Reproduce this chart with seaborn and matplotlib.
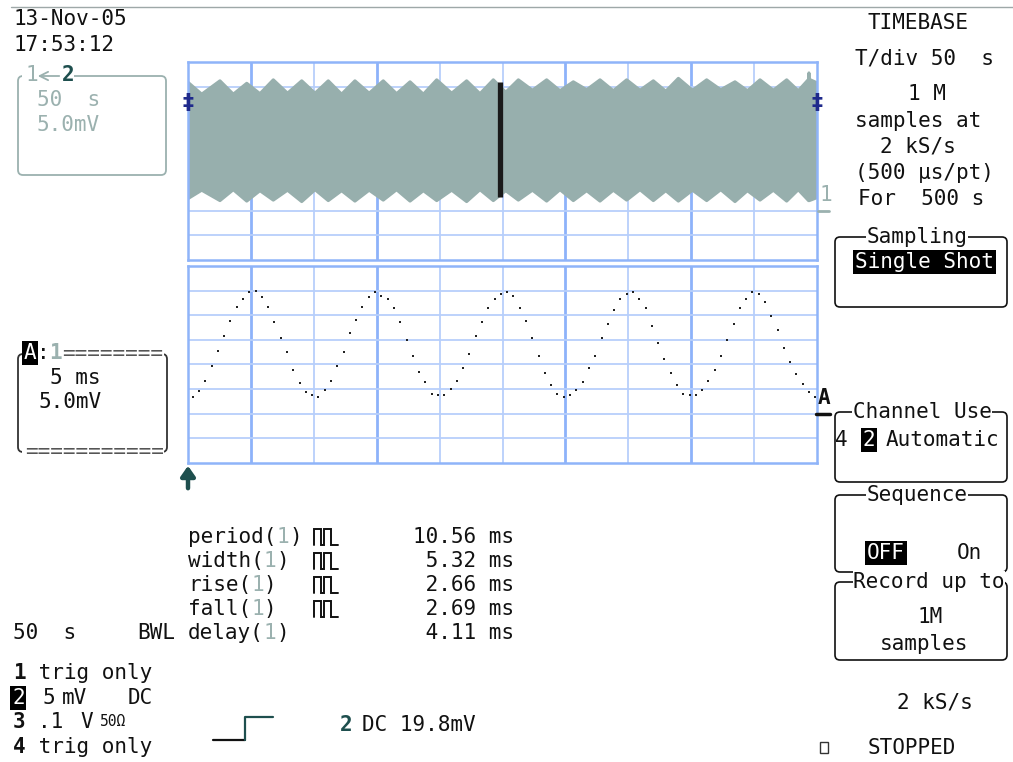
import numpy as np
import pandas as pd
import matplotlib
matplotlib.use("Agg")
import matplotlib.pyplot as plt
from matplotlib.patches import FancyBboxPatch, Rectangle
import seaborn as sns

# ---------------- acquisition data ----------------
# Trace 2 (50 s/div): envelope of the 1 M-sample record, mV
env_t = [0.0, 10.9, 25.4, 36.0, 46.7, 57.2, 67.8, 79.1, 90.4, 101.0,
         111.5, 122.1, 132.7, 144.0, 155.2, 165.8, 176.5, 187.1, 197.7, 209.6,
         221.5, 232.1, 242.7, 252.6, 262.6, 273.8, 285.1, 295.7, 306.3, 316.9,
         327.5, 338.1, 348.7, 359.3, 369.9, 379.8, 389.8, 401.0, 412.3, 423.5,
         434.8, 444.7, 454.7, 465.3, 475.9, 485.1, 493.3, 493.6, 493.9, 500.0]
env_hi = [15.9, 13.5, 16.2, 13.5, 15.7, 13.6, 16.4, 13.7, 16.2, 13.7,
          16.2, 13.5, 16.2, 13.7, 16.2, 13.6, 16.0, 13.5, 16.4, 13.7,
          16.2, 13.6, 16.4, 13.9, 16.4, 14.3, 16.4, 14.2, 16.0, 14.4,
          16.4, 14.2, 16.4, 14.3, 16.2, 14.1, 16.7, 14.3, 16.4, 14.4,
          16.0, 14.2, 16.4, 14.3, 16.4, 14.2, 16.5, 17.8, 16.5, 15.8]
env_lo = [-7.6, -5.9, -8.0, -5.8, -8.1, -6.0, -7.9, -5.9, -8.2, -5.8,
          -8.0, -6.0, -8.1, -5.9, -7.9, -5.8, -8.1, -6.0, -8.0, -5.9,
          -8.2, -5.8, -8.0, -6.0, -7.9, -5.9, -8.1, -5.8, -8.0, -6.0,
          -8.1, -5.9, -7.9, -5.8, -8.0, -6.0, -8.1, -5.9, -8.0, -5.8,
          -8.2, -6.0, -7.9, -5.9, -8.1, -5.8, -8.0, -8.0, -8.0, -7.4]
zoom_pos_s = 248.0          # position of the zoomed window in the record
zoom_bar_mv = [-7.3, 16.0]
trig_level_mv = 11.7

# Trace A (zoom of 2, 5 ms/div): individual samples, mV
zoom_first_ms = 0.37
sample_interval_ms = 0.5    # 500 us/pt
zoom_mv = [-6.5, -5.3, -3.3, -0.4, 2.8, 5.7, 8.9, 11.7, 13.3, 14.7,
           14.9, 13.7, 11.7, 8.6, 5.3, 2.5, -1.1, -3.7, -5.6, -6.2,
           -6.5, -5.2, -3.3, -0.4, 2.5, 6.3, 9.1, 11.7, 13.7, 14.7,
           14.0, 13.3, 11.4, 8.6, 5.0, 1.7, -1.5, -3.6, -5.9, -6.2,
           -6.2, -5.0, -3.3, -0.7, 2.1, 5.7, 8.6, 11.4, 13.3, 14.3,
           14.7, 14.0, 11.4, 8.8, 5.3, 1.7, -1.8, -4.2, -5.9, -6.5,
           -6.2, -5.2, -3.6, -0.8, 1.7, 5.3, 8.2, 11.1, 13.3, 14.3,
           14.7, 13.3, 11.4, 7.9, 4.3, 1.2, -1.7, -4.2, -5.9, -6.2,
           -6.2, -5.2, -3.3, -1.1, 1.7, 5.0, 8.2, 11.4, 13.3, 14.7,
           14.3, 12.7, 9.8, 7.0, 3.4, 0.5, -2.0, -4.0, -5.6, -6.5]

# Parameter measurements on channel 1
meas_names = ["period", "width", "rise", "fall", "delay"]
meas_values = ["10.56", "5.32", "2.66", "2.69", "4.11"]
meas_pulse = [True, True, True, True, False]

assert len(env_t) == len(env_hi) == len(env_lo)

# ---------------- style ----------------
sns.set_theme(style="white")
plt.rcParams["font.family"] = ["DejaVu Sans Mono", "DejaVu Sans"]

K = "#111111"
TEAL_L = "#9bb1af"
TRACE = "#97afad"
DARK_TEAL = "#1e4f4e"
NAVY = "#1f2a8c"
GRID_THIN = "#b7cffb"
GRID_THICK = "#8db2fa"
BORDER = "#8fb4f9"

W, H = 1013, 762
fig = plt.figure(figsize=(W / 100, H / 100), dpi=100)
fig.patch.set_facecolor("white")


def px_rect(x0, y0, x1, y1):
    return [x0 / W, 1 - y1 / H, (x1 - x0) / W, (y1 - y0) / H]


ax_up = fig.add_axes(px_rect(188, 62, 817, 260))
ax_lo = fig.add_axes(px_rect(188, 266, 817, 463))


def scope_grid(ax, xmax, thick_cols):
    ax.set_xlim(0, xmax)
    ax.set_ylim(-20, 20)
    ax.set_xticks([])
    ax.set_yticks([])
    ax.set_facecolor("white")
    for i in range(1, 10):
        thick = i in thick_cols
        ax.axvline(xmax * i / 10, color=GRID_THICK if thick else GRID_THIN,
                   lw=2.0 if thick else 1.3, zorder=0)
    for j in range(1, 8):
        ax.axhline(-20 + 5 * j, color=GRID_THIN, lw=1.3, zorder=0)
    for sp in ax.spines.values():
        sp.set_color(BORDER)
        sp.set_linewidth(1.8)
        sp.set_visible(True)


scope_grid(ax_up, 500, {1, 3, 6, 8})
scope_grid(ax_lo, 50, {1, 3, 6, 8})

# upper trace: filled envelope, edges stroked with round joins
ax_up.fill_between(env_t, env_lo, env_hi, color=TRACE, lw=0, zorder=2)
for edge in (env_hi, env_lo):
    sns.lineplot(x=env_t, y=edge, ax=ax_up, color=TRACE, lw=2.2, sort=False,
                 zorder=2, solid_joinstyle="round", solid_capstyle="butt")
ax_up.vlines(zoom_pos_s, zoom_bar_mv[0], zoom_bar_mv[1], color="#1a1a1a",
             lw=3.8, zorder=4)
ax_up.set_xlabel("")
ax_up.set_ylabel("")

# lower trace: sampled points
df_zoom = pd.DataFrame({
    "t": zoom_first_ms + sample_interval_ms * np.arange(len(zoom_mv)),
    "mv": zoom_mv,
})
sns.scatterplot(data=df_zoom, x="t", y="mv", ax=ax_lo, s=2.6, marker="s",
                color="#222222", linewidth=0, zorder=3)
ax_lo.set_xlabel("")
ax_lo.set_ylabel("")

# ---------------- annotation layer ----------------
ax = fig.add_axes([0, 0, 1, 1])
ax.set_xlim(0, W)
ax.set_ylim(H, 0)
ax.axis("off")
ax.patch.set_alpha(0)

FS = 15.1
CW = 0.6021 * FS * 100 / 72


def mono(x, y, parts, size=FS, **kw):
    col = 0
    for part in parts:
        txt, color = part[0], part[1]
        weight = part[2] if len(part) > 2 else "normal"
        ax.text(x + col * CW * size / FS, y, txt, color=color, fontsize=size,
                fontweight=weight, ha="left", va="center", **kw)
        col += len(txt)


def inverse(x, y, txt, size=FS):
    ax.text(x, y, txt, color="white", fontsize=size, ha="left", va="center",
            bbox=dict(facecolor="black", edgecolor="none", pad=1.2))


def rbox(x0, y0, x1, y1, color=K, lw=1.2):
    ax.add_patch(FancyBboxPatch((x0, y0), x1 - x0, y1 - y0,
                                boxstyle="round,pad=0,rounding_size=5",
                                fc="none", ec=color, lw=lw))


def title(xc, y, txt):
    ax.text(xc, y, txt, color=K, fontsize=FS, ha="center", va="center",
            bbox=dict(facecolor="white", edgecolor="none", pad=0.5))


# header rule and date/time
ax.plot([11, W], [7, 7], color="#9ea8a8", lw=1)
mono(13, 19, [("13-Nov-05", K)])
mono(13, 45, [("17:53:12", K)])

# trace 2 descriptor box
rbox(18, 76, 166, 175, color=TEAL_L, lw=1.3)
ax.add_patch(Rectangle((22, 70), 52, 12, fc="white", ec="none"))
ax.text(26, 75, "1", color=TEAL_L, fontsize=FS, ha="left", va="center")
ax.annotate("", xy=(35, 76), xytext=(62, 76),
            arrowprops=dict(arrowstyle="->,head_width=0.25,head_length=0.5",
                            color=TEAL_L, lw=1.3))
ax.text(62, 75, "2", color=DARK_TEAL, fontsize=FS, fontweight="bold",
        ha="left", va="center")
mono(37, 100, [("50  s", TEAL_L)])
mono(37, 125, [("5.0mV", TEAL_L)])

# trace A descriptor box
rbox(18, 354, 167, 452, color="#333333", lw=1.3)
ax.add_patch(Rectangle((22, 349), 142, 10, fc="white", ec="none"))
ax.add_patch(Rectangle((22, 447), 142, 10, fc="white", ec="none"))
mono(62, 354, [("========", "#555555")])
mono(25, 452, [("===========", "#555555")])
inverse(24, 353, "A")
mono(36.6, 353, [(":", K), ("1", TEAL_L, "bold")])
mono(50, 378, [("5 ms", K)])
mono(38, 402, [("5.0mV", K)])

# trace markers
for tx in (0, 500):
    ax.text(tx, trig_level_mv, "‡", color=NAVY, fontsize=16, fontweight="bold",
            ha="center", va="center", transform=ax_up.transData,
            family="DejaVu Sans")
ax.text(820, 195, "1", color=TEAL_L, fontsize=FS, ha="left", va="center")
ax.plot([818, 829], [211, 211], color=TEAL_L, lw=2)
ax.text(818, 398, "A", color=K, fontsize=FS, fontweight="bold",
        ha="left", va="center")
ax.plot([816, 830], [414, 414], color=K, lw=2.5)
ax.annotate("", xy=(0, -20), xycoords=ax_lo.transData,
            xytext=(0, -28), textcoords="offset pixels",
            arrowprops=dict(arrowstyle="-|>,head_width=0.35,head_length=0.5",
                            color=DARK_TEAL, lw=3.2))

# timebase panel
mono(868, 23, [("TIMEBASE", K)])
mono(855, 58, [("T/div 50  s", K)])
mono(908, 94, [("1 M", K)])
mono(855, 121, [("samples at", K)])
mono(880, 146, [("2 kS/s", K)])
mono(855, 173, [("(500 µs/pt)", K)])
mono(858, 199, [("For  500 s", K)])

rbox(835, 237, 1007, 307)
title(917, 237, "Sampling")
inverse(855, 262, "Single Shot")

rbox(835, 412, 1007, 482)
title(922, 412, "Channel Use")
mono(835, 440, [("4", K)])
inverse(863, 440, "2")
mono(886, 440, [("Automatic", K)])

rbox(835, 495, 1007, 572)
title(917, 495, "Sequence")
inverse(867, 553, "OFF")
mono(957, 553, [("On", K)])

rbox(835, 582, 1007, 660)
title(929, 582, "Record up to")
mono(918, 617, [("1M", K)])
mono(880, 644, [("samples", K)])

mono(897, 702, [("2 kS/s", K)])
ax.add_patch(Rectangle((820, 742), 8, 11, fc="none", ec="#333333", lw=1))
mono(868, 748, [("STOPPED", K)])

# measurements
row_y = [537, 561, 585, 609, 633]
for name, val, pulse, y in zip(meas_names, meas_values, meas_pulse, row_y):
    mono(188, y, [(name + "(", K), ("1", TEAL_L), (")", K)])
    if pulse:
        ax.plot([314, 314, 321, 321, 324, 324, 331, 331, 338],
                [y + 8, y - 8, y - 8, y + 8, y + 8, y - 8, y - 8, y + 8, y + 8],
                color=K, lw=1.4, solid_joinstyle="miter")
    mono(413, y, [(f"{val:>5} ms", K)])

# channel setup summary
mono(13, 633, [("50  s", K)])
mono(137, 633, [("BWL", K)])
rows_b = [673, 698, 722, 747]
mono(13, rows_b[0], [("1", K, "bold"), (" trig only", K)])
inverse(12, rows_b[1], "2")
mono(42, rows_b[1], [("5", K)])
mono(62, rows_b[1], [("mV", K)])
mono(128, rows_b[1], [("DC", K)])
mono(13, rows_b[2], [("3", K, "bold")])
mono(38, rows_b[2], [(".1", K)])
mono(80, rows_b[2], [("V", K)])
ax.text(100, rows_b[2], "50Ω", color=K, fontsize=10.5, ha="left",
        va="center", family="DejaVu Sans Mono")
mono(13, rows_b[3], [("4", K, "bold"), (" trig only", K)])

# trigger slope and level
ax.plot([213, 245], [740, 740], color=K, lw=1.6)
ax.plot([245, 245, 273], [740, 717, 717], color=DARK_TEAL, lw=1.6)
ax.text(340, 725, "2", color=DARK_TEAL, fontsize=FS, fontweight="bold",
        ha="left", va="center")
mono(362, 725, [("DC 19.8mV", K)])

fig.savefig("out.png", dpi=100, facecolor="white")
